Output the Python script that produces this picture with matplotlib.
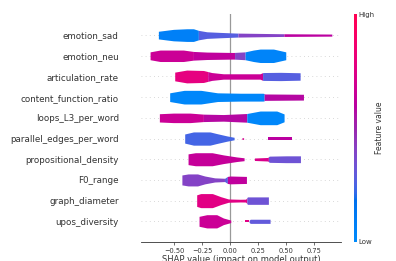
import numpy as np
import matplotlib
matplotlib.use("Agg")
import matplotlib.pyplot as plt
from matplotlib.colors import LinearSegmentedColormap, Normalize
from matplotlib.colorbar import ColorbarBase

# ---------------- data ----------------
features = ["emotion_sad", "emotion_neu", "articulation_rate", "content_function_ratio",
            "loops_L3_per_word", "parallel_edges_per_word", "propositional_density",
            "F0_range", "graph_diameter", "upos_diversity"]

# violin outline knots: per feature, list of pieces (x knots, half widths in row units)
emotion_sad = [([-0.640, -0.506, -0.387, -0.327, -0.283, -0.208, -0.089, 0.060, 0.476, 0.908],
                [0.185, 0.277, 0.306, 0.306, 0.23, 0.16, 0.13, 0.097, 0.065, 0.05])]
emotion_neu = [([-0.714, -0.625, -0.417, -0.327, -0.208, 0.030, 0.134, 0.208, 0.268, 0.387, 0.497],
                [0.19, 0.277, 0.277, 0.21, 0.18, 0.16, 0.19, 0.277, 0.325, 0.325, 0.19])]
articulation_rate = [([-0.494, -0.387, -0.238, -0.164, -0.06, 0.268, 0.292, 0.45, 0.625],
                      [0.21, 0.31, 0.29, 0.19, 0.13, 0.13, 0.19, 0.2, 0.18])]
content_function_ratio = [([-0.539, -0.41, -0.26, -0.113, 0.095, 0.300, 0.310, 0.655],
                           [0.21, 0.33, 0.33, 0.21, 0.19, 0.19, 0.155, 0.14])]
loops_L3_per_word = [([-0.631, -0.506, -0.357, -0.238, -0.06, 0.149, 0.268, 0.417, 0.482],
                      [0.2, 0.23, 0.23, 0.18, 0.16, 0.21, 0.33, 0.33, 0.19])]
parallel_edges_per_word = [([-0.405, -0.327, -0.179, -0.119, -0.03, 0.036],
                            [0.22, 0.32, 0.32, 0.24, 0.13, 0.06]),
                           ([0.105, 0.113, 0.121], [0.03, 0.045, 0.03]),
                           ([0.342, 0.551], [0.075, 0.075])]
propositional_density = [([-0.375, -0.31, -0.16, -0.06, 0.06, 0.125],
                          [0.26, 0.315, 0.315, 0.21, 0.11, 0.07]),
                         ([0.217, 0.335, 0.35, 0.5, 0.628],
                          [0.06, 0.085, 0.15, 0.165, 0.165])]
F0_range = [([-0.43, -0.375, -0.29, -0.226, -0.137, -0.048, -0.024, 0.0, 0.146],
             [0.24, 0.29, 0.29, 0.19, 0.1, 0.08, 0.17, 0.19, 0.17])]
graph_diameter = [([-0.298, -0.262, -0.158, -0.083, -0.015, 0.089, 0.140, 0.155, 0.342],
                   [0.28, 0.34, 0.34, 0.19, 0.08, 0.065, 0.07, 0.18, 0.18])]
upos_diversity = [([-0.277, -0.208, -0.119, -0.06, 0.006],
                   [0.24, 0.32, 0.32, 0.16, 0.06]),
                  ([0.137, 0.17, 0.18, 0.357], [0.05, 0.05, 0.1, 0.1])]

# colour segments: (x start, x end, normalised feature value)
seg_emotion_sad = [(-0.640, -0.283, 0.08), (-0.283, 0.07, 0.27), (0.07, 0.48, 0.4), (0.48, 0.908, 0.6)]
seg_emotion_neu = [(-0.714, -0.327, 0.66), (-0.327, 0.04, 0.62), (0.04, 0.134, 0.4), (0.134, 0.497, 0.05)]
seg_articulation_rate = [(-0.494, -0.2, 0.78), (-0.2, 0.29, 0.66), (0.29, 0.625, 0.27)]
seg_content_function_ratio = [(-0.539, 0.304, 0.03), (0.304, 0.655, 0.58)]
seg_loops_L3_per_word = [(-0.631, -0.238, 0.66), (-0.238, 0.149, 0.58), (0.149, 0.482, 0.03)]
seg_parallel_edges_per_word = [(-0.405, 0.036, 0.24), (0.105, 0.121, 0.7), (0.342, 0.551, 0.6)]
seg_propositional_density = [(-0.375, 0.125, 0.64), (0.217, 0.342, 0.72), (0.342, 0.628, 0.33)]
seg_F0_range = [(-0.43, -0.05, 0.4), (-0.05, -0.024, 0.28), (-0.024, 0.146, 0.62)]
seg_graph_diameter = [(-0.298, 0.149, 0.76), (0.149, 0.342, 0.33)]
seg_upos_diversity = [(-0.277, 0.006, 0.66), (0.137, 0.17, 0.76), (0.17, 0.357, 0.3)]

profiles = [emotion_sad, emotion_neu, articulation_rate, content_function_ratio, loops_L3_per_word,
            parallel_edges_per_word, propositional_density, F0_range, graph_diameter, upos_diversity]
segments = [seg_emotion_sad, seg_emotion_neu, seg_articulation_rate, seg_content_function_ratio,
            seg_loops_L3_per_word, seg_parallel_edges_per_word, seg_propositional_density,
            seg_F0_range, seg_graph_diameter, seg_upos_diversity]

xticks = [-0.50, -0.25, 0.00, 0.25, 0.50, 0.75]


# ---------------- SHAP red_blue colormap ----------------
def lch2rgb(l, c, h):
    a, b = c * np.cos(h), c * np.sin(h)
    fy = (l + 16.) / 116.
    fx = a / 500. + fy
    fz = max(fy - b / 200., 0)
    f = np.array([fx, fy, fz])
    xyz = np.where(f > 0.2068966, f ** 3, (f - 16. / 116.) / 7.787) * np.array([0.95047, 1., 1.08883])
    m = np.array([[3.24048134, -1.53715152, -0.49853633],
                  [-0.96925495, 1.87599, 0.04155593],
                  [0.05564664, -0.20404134, 1.05731107]])
    rgb = m @ xyz
    rgb = np.where(rgb > 0.0031308, 1.055 * np.power(np.clip(rgb, 1e-9, None), 1 / 2.4) - 0.055, 12.92 * rgb)
    return np.clip(rgb, 0, 1)


blue_lch = [54., 70., 4.6588]
red_lch = [54., 90., 0.35470565 + 2 * np.pi]
nsteps = 100
l_vals = list(np.linspace(blue_lch[0], 40., nsteps // 2)) + list(np.linspace(40., red_lch[0], nsteps // 2))
c_vals = np.linspace(blue_lch[1], red_lch[1], nsteps)
h_vals = np.linspace(blue_lch[2], red_lch[2], nsteps)
cols = [lch2rgb(l, c, h) for l, c, h in zip(l_vals, c_vals, h_vals)]
cmap = LinearSegmentedColormap.from_list("red_blue", cols)

# ---------------- figure ----------------
W, H = 396, 261
fig = plt.figure(figsize=(W / 100, H / 100), dpi=100)
ax = fig.add_axes([141 / W, 1 - 242 / H, 200 / W, (242 - 14.4) / H])
n = len(features)
ax.set_xlim(-0.795, 0.99)
ax.set_ylim(-1, n)

for i in range(n):
    ax.axhline(i, color="#cccccc", lw=0.6, dashes=(1, 4), zorder=-1)
ax.axvline(0, color="#999999", lw=0.9, zorder=-1)

for idx, (prof, segs) in enumerate(zip(profiles, segments)):
    y = n - 1 - idx
    for xs, ws in prof:
        xs = np.asarray(xs)
        ws = np.asarray(ws)
        for x0, x1, v in segs:
            lo, hi = max(x0, xs[0]), min(x1, xs[-1])
            if hi <= lo:
                continue
            gx = np.linspace(lo, hi, 80)
            gw = np.interp(gx, xs, ws)
            ax.fill_between(gx, y - gw, y + gw, color=cmap(v), lw=0, zorder=3)

ax.set_yticks(range(n))
ax.set_yticklabels(features[::-1], fontsize=6.3, color="#333333")
ax.tick_params(axis="y", length=0, pad=16)
ax.set_xticks(xticks)
ax.set_xticklabels([f"{t:.2f}".replace("-", "\u2212") for t in xticks], fontsize=4.8, color="#333333")
ax.tick_params(axis="x", length=2, width=0.5, pad=2, color="#333333")
for s in ["left", "right", "top"]:
    ax.spines[s].set_visible(False)
ax.spines["bottom"].set_linewidth(0.6)
ax.spines["bottom"].set_color("#333333")
fig.text(241 / W, 1 - 255 / H, "SHAP value (impact on model output)", ha="center", va="top",
         fontsize=6, color="#333333")

cax = fig.add_axes([353.5 / W, 1 - 241.5 / H, 3.2 / W, (241.5 - 14) / H])
cb = ColorbarBase(cax, cmap=cmap, norm=Normalize(0, 1), orientation="vertical")
cb.outline.set_visible(False)
cax.set_yticks([])
fig.text(358.5 / W, 1 - 14.5 / H, "High", fontsize=5, color="#333333", va="center", ha="left")
fig.text(358.5 / W, 1 - 242 / H, "Low", fontsize=5, color="#333333", va="center", ha="left")
fig.text(379 / W, 1 - 128 / H, "Feature value", fontsize=5.5, color="#333333", rotation=90,
         va="center", ha="center")

fig.savefig("out.png", dpi=100)
